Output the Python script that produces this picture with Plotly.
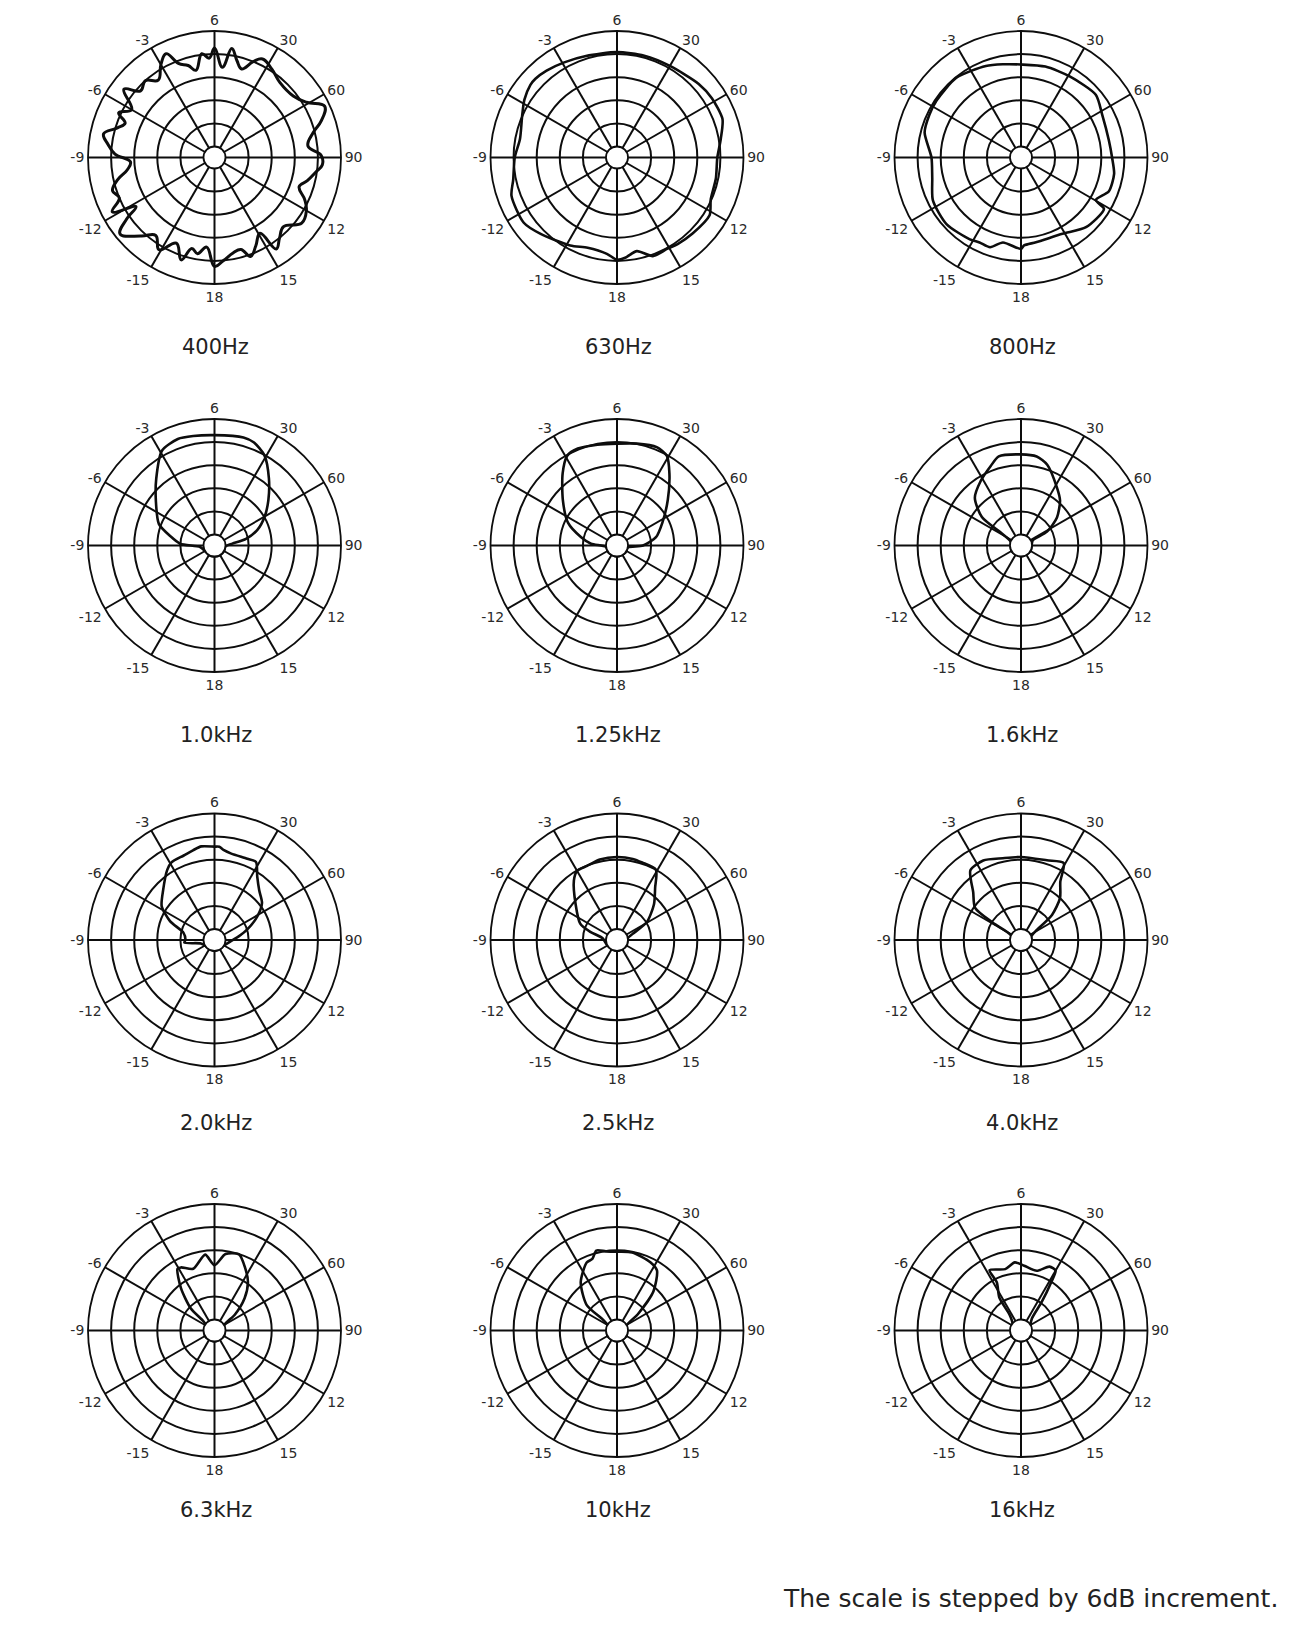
import plotly.graph_objects as go

# ---------------- data (dB, 0 dB = outer ring, -30 dB = centre hole) ----------------
titles = ["400Hz", "630Hz", "800Hz", "1.0kHz", "1.25kHz", "1.6kHz",
          "2.0kHz", "2.5kHz", "4.0kHz", "6.3kHz", "10kHz", "16kHz"]

angle_ticks = [0, 30, 60, 90, 120, 150, 180, 210, 240, 270, 300, 330]
angle_labels = ["6", "30", "60", "90", "12", "15", "18", "-15", "-12", "-9", "-6", "-3"]
ring_ticks = [-30, -24, -18, -12, -6, 0]

theta_400 = [0, 5, 9, 13, 17, 22, 26, 33, 41, 52, 59, 65, 71, 76, 83, 89, 94, 98, 104, 109,
             115, 120, 127, 135, 141, 146, 149, 155, 160, 164, 169, 175, 180, 185, 190, 194,
             198, 204, 211, 217, 223, 231, 235, 238, 242, 247, 252, 257, 262, 267, 272, 277,
             282, 287, 291, 295, 300, 307, 312, 318, 324, 330, 335, 339, 344, 348, 353, 357, 360]
r_400 = [-4.4, -9.3, -4.2, -7.0, -8.8, -6.0, -4.4, -5.5, -7.0, -6.9, -5.0, -1.3, -3.5, -6.5,
         -8.4, -5.1, -4.8, -6.2, -8.0, -9.6, -7.0, -5.3, -4.5, -7.5, -6.0, -4.2, -9.9, -7.5,
         -5.5, -8.0, -7.6, -6.0, -4.6, -9.5, -7.5, -8.5, -4.9, -8.5, -4.9, -7.5, -5.0, -1.3,
         -5.0, -8.8, -2.8, -6.0, -5.0, -7.0, -10.0, -11.0, -7.0, -5.0, -3.4, -6.5, -8.0, -5.4,
         -8.0, -3.4, -7.0, -6.0, -8.0, -5.0, -3.1, -6.7, -8.0, -9.7, -5.7, -7.0, -4.4]

theta_630 = [0, 15, 30, 48, 58, 70, 80, 90, 102, 114, 122, 135, 145, 151, 160, 168, 175, 180,
             186, 198, 208, 225, 235, 250, 258, 270, 281, 294, 302, 310, 314, 321, 331, 343, 360]
r_630 = [-5.5, -5.5, -5.4, -4.3, -3.8, -3.7, -5.5, -6.8, -6.6, -6.2, -4.5, -5.0, -5.4, -5.8,
         -5.6, -8.0, -6.8, -6.3, -7.7, -8.2, -7.0, -4.8, -3.3, -3.7, -5.3, -6.3, -7.2, -5.9,
         -4.5, -3.5, -3.4, -3.8, -4.6, -5.3, -5.5]

theta_800 = [0, 15, 31, 50, 62, 79, 90, 100, 111, 119.6, 121.8, 137, 151.5, 170, 178, 180, 192,
             199, 206, 212, 228, 244, 257, 270, 284.5, 295, 304, 321, 339, 349, 360]
r_800 = [-8.7, -8.4, -8.3, -7.5, -9.0, -9.6, -9.2, -8.3, -8.4, -10.5, -7.5, -8.1, -10.3, -10.5,
         -10.0, -9.1, -10.3, -8.2, -8.3, -7.8, -6.9, -7.4, -9.2, -9.6, -7.0, -6.6, -6.4, -6.2,
         -7.4, -8.2, -8.7]

theta_1000 = [0, 15, 21, 29, 39, 50, 60, 70, 78, 84, 95, 120, 150, 180, 210, 240, 264, 273,
              282, 291, 307, 319, 331, 341, 349, 360]
r_1000 = [-4.2, -3.8, -4.2, -6.1, -10.4, -14.6, -17.8, -21.0, -24.5, -28.2, -30, -30, -30, -30,
          -30, -30, -29.1, -23.9, -21.1, -17.4, -13.8, -9.8, -4.7, -3.6, -3.9, -4.2]

theta_1250 = [0, 11, 22, 29, 36, 48, 63, 78, 90, 100, 130, 180, 230, 262, 274, 283, 295, 310,
              323, 331, 338, 349, 360]
r_1250 = [-6.4, -5.9, -5.3, -6.2, -9.7, -15.1, -19.6, -22.5, -26.1, -30, -30, -30, -30, -30,
          -26.1, -23.3, -18.8, -14.5, -9.4, -6.2, -5.7, -6.2, -6.4]

theta_1600 = [0, 10, 18, 32, 41, 52, 62, 66, 80, 120, 180, 240, 290, 302, 306, 316, 328, 339,
              346, 360]
r_1600 = [-9.2, -9.4, -10.8, -15.2, -17.4, -21.0, -25.2, -29.5, -30, -30, -30, -30, -30,
          -26.9, -20.3, -15.6, -13.1, -10.8, -9.0, -9.2]

theta_2000 = [0, 3, 6, 11, 22, 28, 34, 42, 52, 61, 72, 81, 93, 120, 180, 240, 256, 265, 270,
              283, 293, 302.5, 314, 326, 331, 340, 346.5, 352, 360]
r_2000 = [-8.6, -8.6, -9.4, -10.0, -10.1, -9.9, -13.0, -15.5, -17.2, -20.1, -23.9, -26.4, -28.5,
          -30, -30, -30, -29.2, -25.0, -25.3, -24.6, -20.3, -16.6, -14.3, -10.9, -9.8, -9.5,
          -8.9, -8.3, -8.6]

theta_2500 = [0, 11, 18, 29, 36, 46, 59, 69, 80, 120, 180, 240, 277, 287, 294, 311, 324, 330,
              338, 348, 360]
r_2500 = [-11.3, -11.4, -11.7, -12.0, -16.0, -19.5, -23.8, -28.6, -30, -30, -30, -30, -29.1,
          -25.6, -22.4, -18.6, -13.8, -12.1, -12.1, -11.5, -11.3]

theta_4000 = [0, 18, 29, 34, 43, 51, 59, 70, 120, 180, 240, 295, 301.5, 305, 315, 324, 334.6,
              347.5, 360]
r_4000 = [-11.3, -11.1, -10.0, -14.6, -18.0, -22.5, -28.5, -30, -30, -30, -30, -30, -24.3,
          -18.3, -15.3, -10.5, -10.0, -11.1, -11.3]

theta_6300 = [0, 8.2, 17.9, 25.9, 34.7, 43, 52, 62, 120, 180, 240, 305, 310, 313, 321.5, 329,
              332, 341, 353, 360]
r_6300 = [-15.9, -12.8, -12.1, -14.7, -17.6, -21.4, -26.1, -30, -30, -30, -30, -30, -29.0,
          -24.4, -18.9, -14.2, -14.3, -15.9, -13.0, -15.9]

theta_10k = [0, 11, 26, 33.6, 43, 52, 62, 120, 180, 240, 300, 307.6, 310, 323, 336, 341, 345.5,
             352, 360]
r_10k = [-12.4, -12.2, -13.1, -14.1, -19.0, -26.0, -30, -30, -30, -30, -30, -28.3, -22.6,
         -17.2, -13.5, -13.2, -11.4, -12.1, -12.4]

theta_16k = [2.8, 14.8, 24, 30, 32, 36, 42, 60, 120, 180, 240, 310, 324, 326.7, 333.3, 332.5,
             345.6, 354.8, 362.8]
r_16k = [-16.0, -16.8, -14.7, -14.9, -18.0, -23.7, -28.6, -30, -30, -30, -30, -30, -27.8,
         -22.6, -18.9, -15.2, -16.4, -15.1, -16.0]

series = [(theta_400, r_400), (theta_630, r_630), (theta_800, r_800),
          (theta_1000, r_1000), (theta_1250, r_1250), (theta_1600, r_1600),
          (theta_2000, r_2000), (theta_2500, r_2500), (theta_4000, r_4000),
          (theta_6300, r_6300), (theta_10k, r_10k), (theta_16k, r_16k)]

footer = "The scale is stepped by 6dB increment."

# ---------------- layout constants ----------------
# The page body has an 8px default margin, so the figure is drawn 8px in from
# the top-left corner; coordinates below are page coordinates minus that offset.
OFF = 8
W, H = 1300 - OFF, 1633 - OFF
R = 126.5
HOLE = 0.087
col_x = [214.5 - OFF, 617.0 - OFF, 1021.0 - OFF]
row_y = [157.5 - OFF, 545.5 - OFF, 940.0 - OFF, 1330.5 - OFF]
title_y = [347.0 - OFF, 735.0 - OFF, 1123.0 - OFF, 1510.0 - OFF]
INK = "#0d0d0d"

fig = go.Figure()
layout = dict(width=W, height=H, margin=dict(l=0, r=0, t=0, b=0),
              paper_bgcolor="white", plot_bgcolor="white", showlegend=False)
annotations = []

for i, (th, rr) in enumerate(series):
    row, col = divmod(i, 3)
    cx, cy = col_x[col], row_y[row]
    name = "polar" if i == 0 else f"polar{i + 1}"
    layout[name] = dict(
        domain=dict(x=[(cx - R) / W, (cx + R) / W],
                    y=[1 - (cy + R) / H, 1 - (cy - R) / H]),
        hole=HOLE,
        bgcolor="white",
        radialaxis=dict(range=[-30, 0], tickvals=ring_ticks, showticklabels=False,
                        ticks="", showline=False, gridcolor=INK, gridwidth=1.5),
        angularaxis=dict(rotation=90, direction="clockwise", tickvals=angle_ticks,
                         ticktext=angle_labels, ticks="", showline=True, linecolor=INK,
                         linewidth=1.8, gridcolor=INK, gridwidth=1.5,
                         tickfont=dict(family="DejaVu Sans", size=14, color="#2a2a2a")),
    )
    fig.add_trace(go.Scatterpolar(
        r=rr, theta=th, mode="lines", subplot=name, cliponaxis=False,
        line=dict(color=INK, width=3.0 if i == 0 else 2.6, shape="spline",
                  smoothing=1.2 if i == 0 else 0.7),
        hoverinfo="skip"))
    annotations.append(dict(text=titles[i], x=(cx + 1) / W, y=1 - title_y[row] / H,
                            xref="paper", yref="paper", xanchor="center", yanchor="middle",
                            showarrow=False,
                            font=dict(family="DejaVu Sans", size=21, color="#222222")))

annotations.append(dict(text=footer, x=(1280 - OFF) / W, y=1 - (1598 - OFF) / H,
                        xref="paper", yref="paper",
                        xanchor="right", yanchor="middle", showarrow=False,
                        font=dict(family="DejaVu Sans", size=25, color="#222222")))
layout["annotations"] = annotations
fig.update_layout(**layout)
fig.write_html("out.html")
